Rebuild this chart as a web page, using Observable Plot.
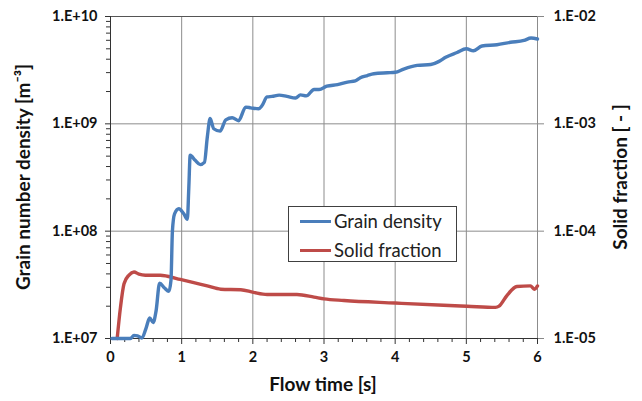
<!DOCTYPE html>
<html><head><meta charset="utf-8">
<script src="https://cdn.jsdelivr.net/npm/d3@7"></script>
<script src="https://cdn.jsdelivr.net/npm/@observablehq/plot@0.6"></script>
<style>
body{margin:0;background:#fff;}
#wrap{position:relative;width:642px;height:401px;font-family:Lato,"Open Sans",sans-serif;}
#legend{position:absolute;left:288px;top:206px;width:167px;height:54px;border:1px solid #404040;background:#fff;font-size:18.5px;color:#222;}
#legend .row{position:absolute;left:11px;height:22px;display:flex;align-items:center;}
#legend .sw{width:31px;height:3px;margin-right:3px;}
</style></head><body><div id="wrap"></div>
<script>
// Grain number density [m^-3] vs flow time [s]
const timeGrain = [0.02,0.28,0.33,0.38,0.44,0.50,0.55,0.60,0.64,0.69,0.76,0.82,0.85,0.87,0.90,0.96,1.03,1.08,1.10,1.12,1.19,1.26,1.32,1.36,1.40,1.45,1.54,1.62,1.71,1.80,1.90,1.97,2.08,2.13,2.20,2.27,2.37,2.48,2.60,2.67,2.75,2.86,2.93,3.04,3.19,3.33,3.44,3.51,3.61,3.70,3.89,4.00,4.12,4.31,4.50,4.61,4.71,4.87,5.00,5.10,5.22,5.43,5.62,5.81,5.91,6.00];
const grainDensity = [1.0e7,1.0e7,1.07e7,1.06e7,1.01e7,1.25e7,1.55e7,1.41e7,1.8e7,3.27e7,2.95e7,2.75e7,3.5e7,1.0e8,1.45e8,1.62e8,1.45e8,1.29e8,2.5e8,5.1e8,4.57e8,4.17e8,4.37e8,7.5e8,1.12e9,9.0e8,8.55e8,1.09e9,1.14e9,1.07e9,1.43e9,1.41e9,1.38e9,1.48e9,1.78e9,1.80e9,1.85e9,1.80e9,1.74e9,1.86e9,1.82e9,2.09e9,2.09e9,2.24e9,2.32e9,2.45e9,2.51e9,2.69e9,2.82e9,2.93e9,2.99e9,3.02e9,3.24e9,3.50e9,3.57e9,3.80e9,4.17e9,4.62e9,5.0e9,4.79e9,5.31e9,5.46e9,5.75e9,5.98e9,6.3e9,6.17e9];
// Solid fraction [-] vs flow time [s]
const timeSolid = [0.094,0.14,0.19,0.26,0.33,0.40,0.49,0.61,0.70,0.80,0.98,1.17,1.36,1.55,1.83,2.01,2.20,2.34,2.62,2.86,3.00,3.28,4.00,4.68,5.01,5.41,5.46,5.57,5.71,5.90,5.96,6.00];
const solidFraction = [1.0e-5,1.95e-5,3.24e-5,3.9e-5,4.17e-5,3.98e-5,3.89e-5,3.89e-5,3.89e-5,3.8e-5,3.55e-5,3.31e-5,3.09e-5,2.88e-5,2.85e-5,2.69e-5,2.57e-5,2.57e-5,2.57e-5,2.43e-5,2.34e-5,2.26e-5,2.14e-5,2.04e-5,2.0e-5,1.95e-5,2.0e-5,2.51e-5,3.05e-5,3.09e-5,2.88e-5,3.09e-5];

const xTicks = [0,1,2,3,4,5,6];
const leftTicks = [1e7,1e8,1e9,1e10];
const leftTickLabels = ["1.E+07","1.E+08","1.E+09","1.E+10"];
const rightTicks = [1e-5,1e-4,1e-3,1e-2];
const rightTickLabels = ["1.E-05","1.E-04","1.E-03","1.E-02"];
const seriesNames = ["Grain density","Solid fraction"];
const seriesColors = ["#4a7ebb","#be4b48"];
const xLabel = "Flow time [s]";
const leftLabel = "Grain number density [m⁻³]";
const rightLabel = "Solid fraction [ - ]";

// right axis shares the left log scale: solid fraction * 1e12 maps 1e-5..1e-2 onto 1e7..1e10
const rightToLeft = leftTicks[0] / rightTicks[0];
const nearestIdx = (arr, d) => arr.findIndex(v => Math.abs(Math.log10(v / d)) < 1e-6);

const grain = timeGrain.map((t, i) => ({t, v: grainDensity[i]}));
const solid = timeSolid.map((t, i) => ({t, v: solidFraction[i] * rightToLeft}));
const minorX = d3.range(0, 30).map(i => i / 5).filter(v => !xTicks.includes(v));
const minorY = [];
for (let k = 0; k < leftTicks.length - 1; k++) for (let m = 2; m <= 9; m++) minorY.push(leftTicks[k] * m);

const plot = Plot.plot({
  width: 642, height: 401,
  marginLeft: 110, marginRight: 105, marginTop: 16, marginBottom: 63,
  x: {domain: [0, 6]},
  y: {type: "log", domain: [leftTicks[0], leftTicks[leftTicks.length - 1]]},
  style: {fontFamily: "Lato, 'Open Sans', sans-serif", fontSize: "14.5px", fontWeight: "bold", color: "#111", background: "#fff"},
  marks: [
    Plot.gridX(xTicks.filter(t => t > 0), {stroke: "#8c8c8c", strokeOpacity: 1}),
    Plot.gridY(leftTicks.slice(1, -1), {stroke: "#8c8c8c", strokeOpacity: 1}),
    Plot.ruleY([leftTicks[leftTicks.length - 1]], {stroke: "#555"}),
    Plot.axisX(minorX, {tickSize: 4, tickFormat: () => "", stroke: "#333", label: null}),
    Plot.axisX(xTicks, {tickSize: 6, tickPadding: 7, tickFormat: d => String(d), stroke: "#333", label: null}),
    Plot.axisY(minorY, {anchor: "left", tickSize: 4, tickFormat: () => "", stroke: "#333", label: null}),
    Plot.axisY(leftTicks, {anchor: "left", tickSize: 5, tickPadding: 8, tickFormat: d => leftTickLabels[nearestIdx(leftTicks, d)], stroke: "#333", label: null}),
    Plot.axisY(rightTicks.map(v => v * rightToLeft), {anchor: "right", tickSize: 6, tickPadding: 10, tickFormat: d => rightTickLabels[nearestIdx(rightTicks, d / rightToLeft)], stroke: "#888", label: null}),
    Plot.ruleX([0], {stroke: "#333"}),
    Plot.ruleY([leftTicks[0]], {stroke: "#333"}),
    Plot.line(solid, {x: "t", y: "v", stroke: seriesColors[1], strokeWidth: 3.4, curve: "monotone-x"}),
    Plot.line(grain, {x: "t", y: "v", stroke: seriesColors[0], strokeWidth: 3.4, curve: "monotone-x"})
  ]
});

const wrap = document.getElementById("wrap");
wrap.appendChild(plot);
const svg = d3.select(plot);
const titleStyle = s => s.attr("font-family", "Lato, 'Open Sans', sans-serif").attr("font-size", 19).attr("font-weight", "bold").attr("fill", "#111").attr("text-anchor", "middle").attr("dominant-baseline", "middle");
svg.append("text").call(titleStyle).attr("x", 323).attr("y", 386).text(xLabel);
svg.append("text").call(titleStyle).attr("transform", "translate(25,177) rotate(-90)").text(leftLabel);
svg.append("text").call(titleStyle).attr("transform", "translate(622,177) rotate(-90)").text(rightLabel);

// legend
const lg = document.createElement("div");
lg.id = "legend";
seriesNames.forEach((name, i) => {
  const row = document.createElement("div");
  row.className = "row";
  row.style.top = (i === 0 ? 3 : 32) + "px";
  const sw = document.createElement("div");
  sw.className = "sw";
  sw.style.background = seriesColors[i];
  const tx = document.createElement("span");
  tx.textContent = name;
  row.appendChild(sw); row.appendChild(tx);
  lg.appendChild(row);
});
wrap.appendChild(lg);
</script></body></html>
